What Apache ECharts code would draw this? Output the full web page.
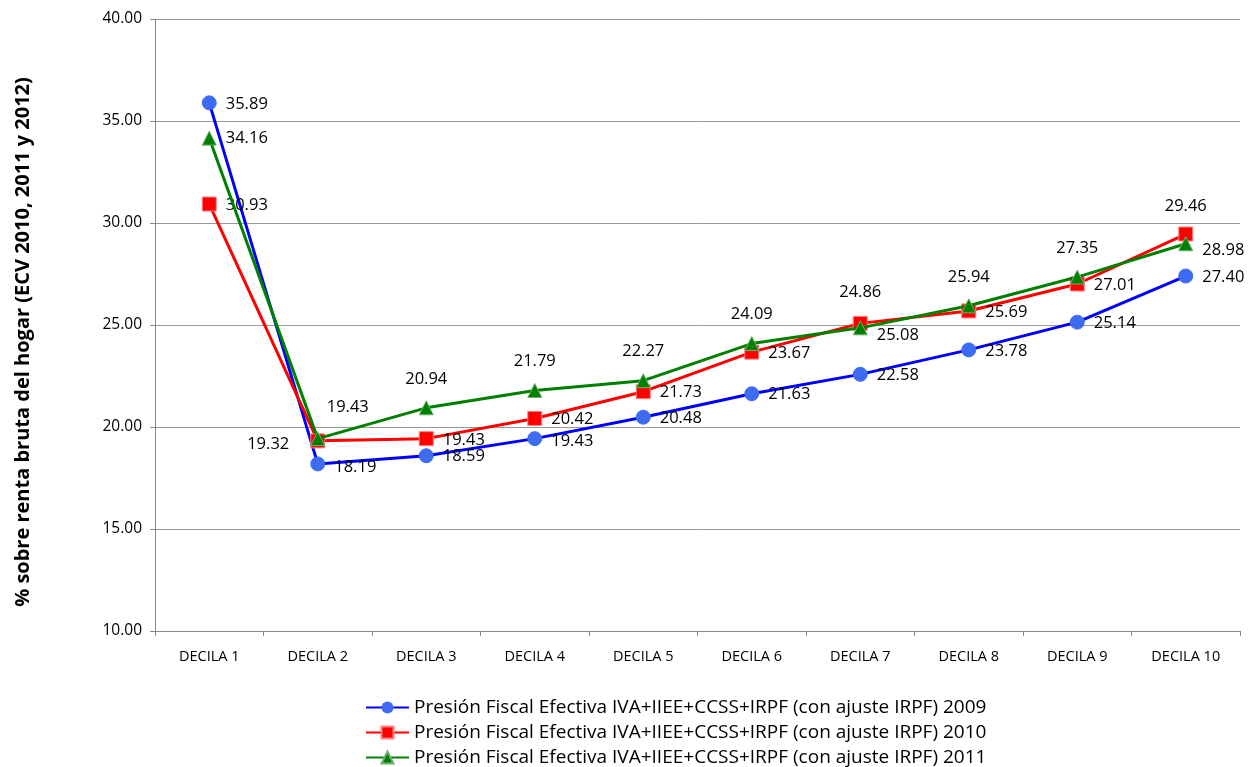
<!DOCTYPE html>
<html><head><meta charset="utf-8">
<script src="https://cdn.jsdelivr.net/npm/echarts@6/dist/echarts.min.js"></script>
<style>html,body{margin:0;padding:0;background:#fff}#c{width:1255px;height:767px}</style>
</head><body><div id="c"></div>
<script>
var categories = ['DECILA 1','DECILA 2','DECILA 3','DECILA 4','DECILA 5','DECILA 6','DECILA 7','DECILA 8','DECILA 9','DECILA 10'];
var seriesNames = [
  'Presión Fiscal Efectiva IVA+IIEE+CCSS+IRPF (con ajuste IRPF) 2009',
  'Presión Fiscal Efectiva IVA+IIEE+CCSS+IRPF (con ajuste IRPF) 2010',
  'Presión Fiscal Efectiva IVA+IIEE+CCSS+IRPF (con ajuste IRPF) 2011'
];
var values2009 = [35.89, 18.19, 18.59, 19.43, 20.48, 21.63, 22.58, 23.78, 25.14, 27.40];
var values2010 = [30.93, 19.32, 19.43, 20.42, 21.73, 23.67, 25.08, 25.69, 27.01, 29.46];
var values2011 = [34.16, 19.43, 20.94, 21.79, 22.27, 24.09, 24.86, 25.94, 27.35, 28.98];

var FONT = 'Open Sans, Liberation Sans, sans-serif';
var labelFont = {fontFamily: FONT, fontSize: 16.5, color: '#000'};
function lbl(pos, dx, dy) {
  return Object.assign({show: true, position: pos, offset: [dx || 0, dy || 0], distance: 9,
    formatter: function (p) { return p.value.toFixed(2); }}, labelFont);
}
function build(vals, overrides) {
  return vals.map(function (v, i) {
    var o = {value: v};
    if (overrides[i]) o.label = overrides[i];
    return o;
  });
}
function legendRow(name, top) {
  return {
    orient: 'vertical', left: 365, top: top, padding: 0, itemWidth: 43, itemHeight: 15,
    textStyle: {fontFamily: FONT, fontSize: 19, color: '#000'},
    data: [name]
  };
}
var chart = echarts.init(document.getElementById('c'));
chart.setOption({
  animation: false,
  grid: {left: 155, right: 15, top: 19, bottom: 136},
  xAxis: {
    type: 'category', data: categories, boundaryGap: true,
    axisLine: {lineStyle: {color: '#888', width: 1}},
    axisTick: {show: true, inside: false, length: 5, lineStyle: {color: '#888'}},
    axisLabel: {color: '#000', fontFamily: FONT, fontSize: 14.5, margin: 18}
  },
  yAxis: {
    type: 'value', min: 10, max: 40, interval: 5,
    name: '% sobre renta bruta del hogar (ECV 2010, 2011 y 2012)',
    nameLocation: 'middle', nameGap: 122, nameRotate: 90,
    nameTextStyle: {fontFamily: FONT, fontWeight: 'bold', fontSize: 20, color: '#000', padding: [0, 34, 0, 0]},
    axisLine: {show: true, lineStyle: {color: '#888'}},
    axisTick: {show: true, length: 5, lineStyle: {color: '#888'}},
    splitLine: {lineStyle: {color: '#999', width: 1}},
    axisLabel: {color: '#000', fontFamily: FONT, fontSize: 15.5, margin: 13,
      formatter: function (v) { return v.toFixed(2); }}
  },
  legend: [legendRow(seriesNames[0], 698), legendRow(seriesNames[1], 723), legendRow(seriesNames[2], 748)],
  series: [
    {
      name: seriesNames[0], type: 'line', data: build(values2009, {1: lbl('right', 0, 3), 3: lbl('right', 0, 3)}),
      symbol: 'circle', symbolSize: 14, z: 3,
      lineStyle: {color: '#0000ff', width: 3},
      itemStyle: {color: '#3d6cf2', borderColor: '#3d6cf2'},
      label: lbl('right', 0, 1)
    },
    {
      name: seriesNames[1], type: 'line', data: build(values2010, {1: lbl('left', -12, 3), 2: lbl('right', 0, 2), 6: lbl('right', 0, 12), 9: lbl('top', 0, -3)}),
      symbol: 'rect', symbolSize: 14, z: 4,
      lineStyle: {color: '#ff0000', width: 3},
      itemStyle: {color: '#ff0000', borderColor: '#ff8080', borderWidth: 1},
      label: lbl('right', 0, 1)
    },
    {
      name: seriesNames[2], type: 'line', data: build(values2011, {0: lbl('right', 0, 0), 1: lbl('top', 30, -6), 6: lbl('top', 0, -11), 9: lbl('right', 0, 6)}),
      symbol: 'triangle', symbolSize: 14, z: 5,
      lineStyle: {color: '#008000', width: 3},
      itemStyle: {color: '#008000', borderColor: '#6fb06f', borderWidth: 1},
      label: lbl('top', 0, -4)
    }
  ]
});
</script></body></html>
